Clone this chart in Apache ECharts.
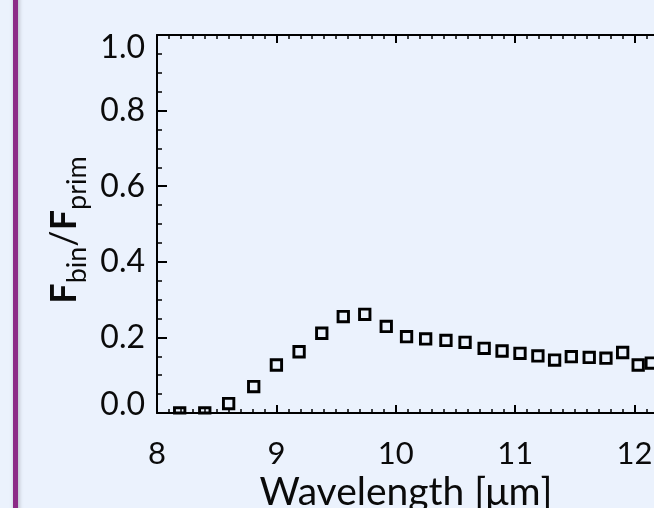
<!DOCTYPE html>
<html>
<head>
<meta charset="utf-8">
<script src="https://cdn.jsdelivr.net/npm/echarts@6/dist/echarts.min.js"></script>
<style>
  html, body { margin: 0; padding: 0; background: #EBF2FD; }
  #chart { width: 654px; height: 508px; }
</style>
</head>
<body>
<div id="chart"></div>
<script>
// wavelength in micron, flux ratio
var wavelength = [8.19, 8.40, 8.60, 8.81, 9.00, 9.19, 9.38, 9.56, 9.74, 9.92,
  10.09, 10.25, 10.42, 10.58, 10.74, 10.89, 11.04, 11.19, 11.33, 11.47,
  11.62, 11.76, 11.90, 12.03, 12.14]
var fluxRatio = [0.0, 0.0, 0.025, 0.07, 0.127, 0.162, 0.211, 0.255, 0.261, 0.229,
  0.202, 0.196, 0.192, 0.187, 0.171, 0.164, 0.158, 0.151, 0.140, 0.149,
  0.147, 0.145, 0.160, 0.127, 0.132]
var xTicks = [8, 9, 10, 11, 12, 13]
var yTicks = [0.0, 0.2, 0.4, 0.6, 0.8, 1.0]

var points = wavelength.map(function(w, i) { return [w, fluxRatio[i]] })

var font = 'Lato'
var chart = echarts.init(document.getElementById('chart'))

var xAxisBase = {
  type: 'value',
  min: xTicks[0],
  max: xTicks[xTicks.length - 1],
  interval: 1,
  splitLine: { show: false },
  axisLine: { show: true, lineStyle: { color: '#000', width: 2 } },
  axisTick: { show: true, inside: true, length: 8, lineStyle: { color: '#000', width: 2 } },
  minorTick: { show: true, splitNumber: 10, length: 4, lineStyle: { color: '#000', width: 1.5 } }
}

// open square, clipped to the plot box like the original
function renderSquare(params, api) {
  var c = api.coord([api.value(0), api.value(1)])
  var half = 5.2
  var rect = echarts.graphic.clipRectByRect(
    { x: c[0] - half, y: c[1] - half, width: half * 2, height: half * 2 },
    { x: params.coordSys.x, y: params.coordSys.y, width: params.coordSys.width, height: params.coordSys.height }
  )
  if (!rect) return
  return {
    type: 'rect',
    shape: rect,
    style: { fill: 'none', stroke: '#000', lineWidth: 2.9 }
  }
}

chart.setOption({
  backgroundColor: '#EBF2FD',
  animation: false,
  grid: { left: 157, top: 35, bottom: 95, right: -100, containLabel: false, outerBoundsMode: 'none' },
  xAxis: [
    Object.assign({}, xAxisBase, {
      position: 'bottom',
      axisLabel: {
        margin: 25, fontSize: 31, color: '#0a0a0a', fontFamily: font,
        formatter: function(v) { return v.toString() }
      }
    }),
    Object.assign({}, xAxisBase, {
      position: 'top',
      axisLabel: { show: false }
    })
  ],
  yAxis: {
    type: 'value',
    min: yTicks[0],
    max: yTicks[yTicks.length - 1],
    interval: 0.2,
    splitLine: { show: false },
    axisLine: { show: true, lineStyle: { color: '#000', width: 2 } },
    axisTick: { show: true, inside: true, length: 10, lineStyle: { color: '#000', width: 2 } },
    minorTick: { show: true, splitNumber: 4, length: 5, lineStyle: { color: '#000', width: 1.5 } },
    axisLabel: {
      margin: 12, fontSize: 32, color: '#0a0a0a', fontFamily: font,
      formatter: function(v) {
        if (v >= 1) return '{top|' + v.toFixed(1) + '}'
        if (v <= 0) return '{bot|' + v.toFixed(1) + '}'
        return v.toFixed(1)
      },
      rich: {
        top: { fontSize: 32, fontFamily: font, color: '#0a0a0a', padding: [26, 0, 0, 0] },
        bot: { fontSize: 32, fontFamily: font, color: '#0a0a0a', padding: [0, 0, 16, 0] }
      }
    }
  },
  graphic: [
    {
      type: 'rect',
      shape: { x: 13, y: -5, width: 5, height: 520 },
      style: { fill: '#8C2A86', shadowBlur: 4, shadowColor: 'rgba(0,0,0,0.25)', shadowOffsetX: 1 },
      z: 10
    },
    {
      type: 'text',
      x: 406,
      y: 492,
      style: {
        text: 'Wavelength [μm]',
        fontSize: 39,
        fontFamily: font,
        fill: '#0a0a0a',
        align: 'center',
        verticalAlign: 'middle'
      }
    },
    {
      type: 'text',
      x: 64,
      y: 230,
      rotation: Math.PI / 2,
      style: {
        text: '{m|F}{s|bin}{n|/}{m|F}{s|prim}',
        align: 'center',
        verticalAlign: 'middle',
        rich: {
          m: { fontSize: 36, fontWeight: 'bold', fontFamily: font, fill: '#0a0a0a', lineHeight: 36, verticalAlign: 'top' },
          n: { fontSize: 36, fontFamily: font, fill: '#0a0a0a', lineHeight: 36, verticalAlign: 'top' },
          s: { fontSize: 27, fontFamily: font, fill: '#0a0a0a', lineHeight: 27, verticalAlign: 'top', padding: [18, 0, 0, 0] }
        }
      }
    }
  ],
  series: [{
    type: 'custom',
    coordinateSystem: 'cartesian2d',
    renderItem: renderSquare,
    data: points,
    encode: { x: 0, y: 1 }
  }]
})
</script>
</body>
</html>
